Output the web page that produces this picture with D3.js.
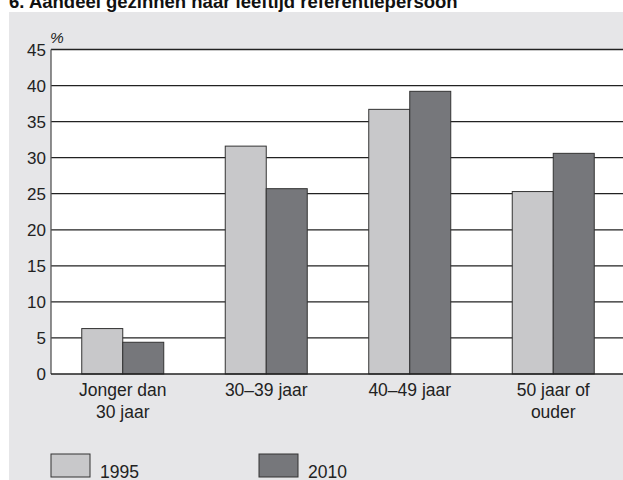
<!DOCTYPE html>
<html>
<head>
<meta charset="utf-8">
<script src="https://cdn.jsdelivr.net/npm/d3@7"></script>
<style>
	body { margin: 0; background: #fff; }
	svg { display: block; font-family: "Liberation Sans", Arial, sans-serif; }
</style>
</head>
<body>
<svg id="chart" width="623" height="480"></svg>
<script>
var categories = [['Jonger dan', '30 jaar'], ['30\u201339 jaar'], ['40\u201349 jaar'], ['50 jaar of', 'ouder']];
var series = ['1995', '2010'];
var values1995 = [6.3, 31.6, 36.7, 25.3];
var values2010 = [4.4, 25.7, 39.2, 30.6];
var yTicks = [0, 5, 10, 15, 20, 25, 30, 35, 40, 45];

var colors = { '1995': '#c8c8ca', '2010': '#76777b' };

var svg = d3.select('#chart');

// title (cut off at top like the source scan)
svg.append('text')
	.attr('x', 9).attr('y', 8)
	.style('font-size', '18.5px').style('font-weight', 'bold').attr('fill', '#111')
	.text('6. Aandeel gezinnen naar leeftijd referentiepersoon');

// grey panel
svg.append('rect')
	.attr('x', 9).attr('y', 12)
	.attr('width', 623).attr('height', 480)
	.attr('fill', '#e6e6e8');

var x = d3.scaleBand()
	.domain(d3.range(categories.length))
	.range([51, 625])
	.paddingInner(0.4286)
	.paddingOuter(0.2143);

var x1 = d3.scaleBand().domain(series).range([0, x.bandwidth()]);

var y = d3.scaleLinear().domain([0, 45]).range([374, 49.5]);

// plot area
svg.append('rect')
	.attr('x', 51).attr('y', y(45))
	.attr('width', 623 - 51).attr('height', y(0) - y(45))
	.attr('fill', '#fff');

// gridlines
svg.append('g').selectAll('line').data(yTicks.filter(function(d) { return d > 0; })).enter().append('line')
	.attr('x1', 51).attr('x2', 623)
	.attr('y1', function(d) { return y(d); }).attr('y2', function(d) { return y(d); })
	.attr('stroke', '#222').attr('stroke-width', 1.3);

// bars
var rows = categories.map(function(c, i) { return { i: i, v: { '1995': values1995[i], '2010': values2010[i] } }; });
var groups = svg.append('g').selectAll('g').data(rows).enter().append('g')
	.attr('transform', function(d) { return 'translate(' + x(d.i) + ',0)'; });

groups.selectAll('rect').data(function(d) { return series.map(function(s) { return { s: s, v: d.v[s] }; }); })
	.enter().append('rect')
	.attr('x', function(d) { return x1(d.s); })
	.attr('y', function(d) { return y(d.v); })
	.attr('width', x1.bandwidth())
	.attr('height', function(d) { return y(0) - y(d.v); })
	.attr('fill', function(d) { return colors[d.s]; })
	.attr('stroke', '#333').attr('stroke-width', 1);

// axes lines
svg.append('line').attr('x1', 51).attr('x2', 51).attr('y1', y(45)).attr('y2', y(0))
	.attr('stroke', '#555').attr('stroke-width', 1.3);
svg.append('line').attr('x1', 51).attr('x2', 623).attr('y1', y(0)).attr('y2', y(0))
	.attr('stroke', '#222').attr('stroke-width', 1.3);

// y labels
svg.append('g').selectAll('text').data(yTicks).enter().append('text')
	.attr('x', 46).attr('y', function(d) { return y(d); })
	.attr('dy', '0.36em')
	.attr('text-anchor', 'end')
	.style('font-size', '17px').attr('fill', '#222')
	.text(function(d) { return d; });

svg.append('text')
	.attr('x', 50).attr('y', 43)
	.style('font-size', '15.5px').style('font-style', 'italic').attr('fill', '#222')
	.text('%');

// x labels
var xl = svg.append('g').selectAll('text').data(rows).enter().append('text')
	.attr('text-anchor', 'middle')
	.style('font-size', '17.5px').attr('fill', '#222')
	.attr('transform', function(d) { return 'translate(' + (x(d.i) + x.bandwidth() / 2) + ',396)'; });
xl.selectAll('tspan').data(function(d) { return categories[d.i]; }).enter().append('tspan')
	.attr('x', 0)
	.attr('dy', function(d, i) { return i == 0 ? 0 : 22; })
	.text(function(d) { return d; });

// legend
var legendX = [51, 259];
var legend = svg.append('g').selectAll('g').data(series).enter().append('g')
	.attr('transform', function(d, i) { return 'translate(' + legendX[i] + ',454)'; });
legend.append('rect')
	.attr('width', 39).attr('height', 23)
	.attr('fill', function(d) { return colors[d]; })
	.attr('stroke', '#333').attr('stroke-width', 1);
legend.append('text')
	.attr('x', 49).attr('y', 23.5)
	.style('font-size', '17.5px').attr('fill', '#222')
	.text(function(d) { return d; });
</script>
</body>
</html>
